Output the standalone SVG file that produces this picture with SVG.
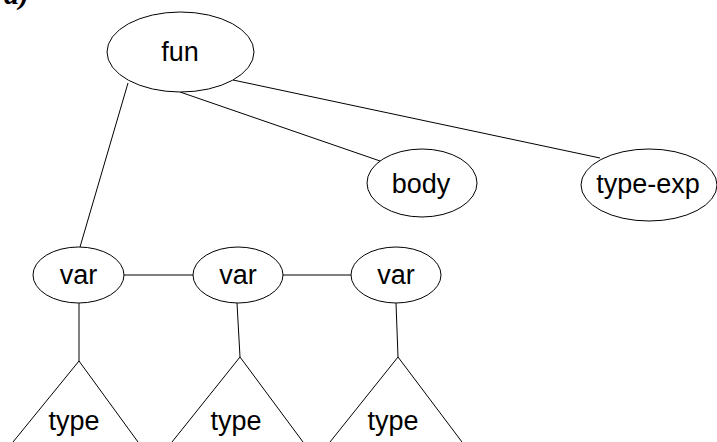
<svg xmlns="http://www.w3.org/2000/svg" width="717" height="442" viewBox="0 0 717 442">
<style>
.n{fill:#fff;stroke:#000;stroke-width:1}
.t{font-family:"Liberation Sans",Arial,sans-serif;font-size:27px;fill:#000;text-anchor:middle}
.e{stroke:#000;stroke-width:1;fill:none}
</style>
<rect width="717" height="442" fill="#fff"/>
<text x="4" y="4" font-family="Liberation Serif,serif" font-style="italic" font-weight="bold" font-size="30">a)</text>
<g id="connectors">
<line class="e" x1="128" y1="83" x2="80" y2="247"/>
<line class="e" x1="180" y1="92" x2="383" y2="162"/>
<line class="e" x1="233" y1="80" x2="600" y2="158"/>
<line class="e" x1="124" y1="275" x2="193" y2="275"/>
<line class="e" x1="283" y1="275" x2="351" y2="275"/>
<line class="e" x1="79" y1="303" x2="79" y2="361"/>
<line class="e" x1="237" y1="303" x2="240" y2="357"/>
<line class="e" x1="396" y1="303" x2="398" y2="357"/>
</g>
<g id="fun"><ellipse class="n" cx="180.5" cy="52" rx="73.5" ry="40"/><text class="t" x="180" y="61">fun</text></g>
<g id="body"><ellipse class="n" cx="422" cy="183" rx="55" ry="34"/><text class="t" x="421" y="193">body</text></g>
<g id="type-exp"><ellipse class="n" cx="649" cy="185" rx="68" ry="36"/><text class="t" x="648" y="193">type-exp</text></g>
<g id="var1"><ellipse class="n" cx="78.5" cy="275" rx="45.5" ry="28"/><text class="t" x="78.5" y="284">var</text></g>
<g id="var2"><ellipse class="n" cx="238" cy="275" rx="45" ry="28"/><text class="t" x="238" y="284">var</text></g>
<g id="var3"><ellipse class="n" cx="396" cy="275" rx="45" ry="28"/><text class="t" x="396" y="284">var</text></g>
<g id="type1"><polyline class="e" points="13,442 79,361 138,442"/><text class="t" x="74" y="430">type</text></g>
<g id="type2"><polyline class="e" points="172,442 240,357 303,442"/><text class="t" x="236" y="430">type</text></g>
<g id="type3"><polyline class="e" points="330,442 398,357 462,442"/><text class="t" x="393" y="430">type</text></g>
</svg>
